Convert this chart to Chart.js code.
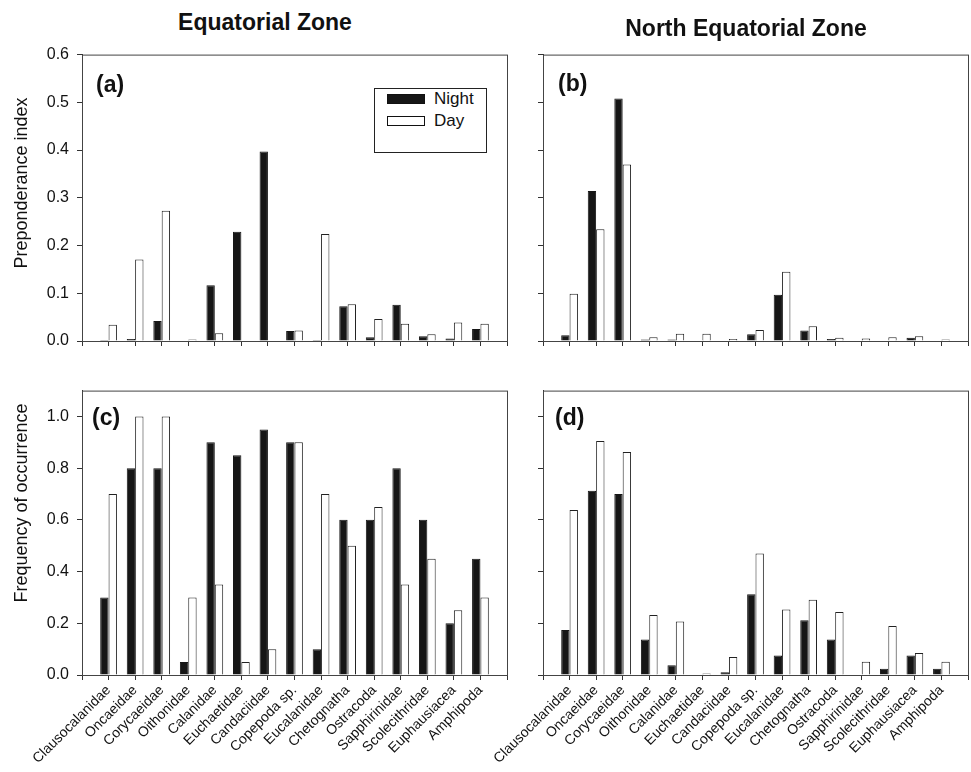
<!DOCTYPE html>
<html lang="en">
<head>
<meta charset="UTF-8">
<title>Preponderance index and frequency of occurrence</title>
<script src="https://cdn.jsdelivr.net/npm/chart.js"></script>
<style>
    body {
        margin: 0;
        background: #fff;
        font-family: 'Liberation Sans', Arial, sans-serif;
        color: #111;
    }

    #wrap {
        position: relative;
        width: 971px;
        height: 772px;
        overflow: hidden;
    }

    canvas {
        position: absolute;
    }

    .zone {
        position: absolute;
        font-weight: bold;
        font-size: 23px;
        white-space: nowrap;
        transform: translate(-50%, -50%);
    }

    .ytitle {
        position: absolute;
        font-size: 18px;
        white-space: nowrap;
        transform: translate(-50%, -50%) rotate(-90deg);
    }

    .legend {
        position: absolute;
        left: 374px;
        top: 88px;
        width: 111px;
        height: 63px;
        border: 1px solid #222;
        background: #fff;
        font-size: 17px;
    }

    .legend div {
        position: absolute;
        left: 12px;
        height: 20px;
        line-height: 20px;
    }

    .legend span {
        display: inline-block;
        width: 36px;
        height: 8px;
        border: 1px solid #111;
        margin-right: 9px;
        vertical-align: middle;
        position: relative;
        top: -1px;
    }
</style>
</head>
<body>
<div id="wrap">
    <canvas id="chartA" width="527" height="324" style="left:0;top:37px"></canvas>
    <canvas id="chartB" width="527" height="324" style="left:461px;top:37px"></canvas>
    <canvas id="chartC" width="527" height="399" style="left:0;top:373px"></canvas>
    <canvas id="chartD" width="527" height="399" style="left:461px;top:373px"></canvas>

    <div class="zone" style="left:265px;top:22px">Equatorial Zone</div>
    <div class="zone" style="left:746px;top:28px">North Equatorial Zone</div>
    <div class="ytitle" style="left:21px;top:183px">Preponderance index</div>
    <div class="ytitle" style="left:21px;top:503px">Frequency of occurrence</div>

    <div class="legend">
        <div style="top:0px"><span style="background:#161616"></span>Night</div>
        <div style="top:22px"><span style="background:#fff"></span>Day</div>
    </div>
</div>

<script>
    const categories = ['Clausocalanidae', 'Oncaeidae', 'Corycaeidae', 'Oithonidae', 'Calanidae', 'Euchaetidae',
        'Candaciidae', 'Copepoda sp.', 'Eucalanidae', 'Chetognatha', 'Ostracoda', 'Sapphirinidae',
        'Scolecithridae', 'Euphausiacea', 'Amphipoda'];

    // preponderance index
    const eqPrepNight = [0.002, 0.004, 0.042, 0, 0.117, 0.229, 0.397, 0.021, 0.002, 0.073, 0.008, 0.076, 0.010, 0.005, 0.025];
    const eqPrepDay = [0.034, 0.171, 0.273, 0.003, 0.016, 0, 0.001, 0.022, 0.224, 0.077, 0.046, 0.036, 0.014, 0.039, 0.036];
    const neqPrepNight = [0.012, 0.314, 0.508, 0.003, 0.003, 0, 0, 0.014, 0.097, 0.022, 0.004, 0, 0, 0.007, 0];
    const neqPrepDay = [0.099, 0.234, 0.370, 0.008, 0.015, 0.015, 0.004, 0.023, 0.145, 0.031, 0.007, 0.005, 0.008, 0.010, 0.003];

    // frequency of occurrence
    const eqFreqNight = [0.30, 0.80, 0.80, 0.05, 0.90, 0.85, 0.95, 0.90, 0.10, 0.60, 0.60, 0.80, 0.60, 0.20, 0.45];
    const eqFreqDay = [0.70, 1.00, 1.00, 0.30, 0.35, 0.05, 0.10, 0.90, 0.70, 0.50, 0.65, 0.35, 0.45, 0.25, 0.30];
    const neqFreqNight = [0.174, 0.713, 0.700, 0.137, 0.038, 0, 0.011, 0.312, 0.075, 0.212, 0.137, 0, 0.024, 0.075, 0.024];
    const neqFreqDay = [0.638, 0.905, 0.863, 0.232, 0.207, 0.006, 0.070, 0.470, 0.253, 0.291, 0.244, 0.051, 0.190, 0.085, 0.051];

    const prepTicks = [0, 0.1, 0.2, 0.3, 0.4, 0.5, 0.6];
    const freqTicks = [0, 0.2, 0.4, 0.6, 0.8, 1.0];

    const FONT = "'Liberation Sans', Arial, sans-serif";

    // box around the plot area + panel letter
    const framePlugin = {
        id: 'frame',
        afterDraw(chart, args, opts) {
            const { ctx, chartArea: a } = chart;
            ctx.save();
            ctx.strokeStyle = '#444';
            ctx.lineWidth = 1;
            ctx.strokeRect(a.left + 0.5, a.top + 0.5, a.right - a.left, a.bottom - a.top);
            ctx.font = 'bold 23px ' + FONT;
            ctx.fillStyle = '#111';
            ctx.textBaseline = 'middle';
            ctx.fillText(opts.tag, a.left + opts.dx, a.top + opts.dy);
            ctx.restore();
        }
    };

    function toPoints(values) {
        return values.map((v, i) => ({ x: i + 1, y: v }));
    }

    function makePanel(id, night, day, yTicks, yMax, opt) {
        new Chart(document.getElementById(id), {
            type: 'bar',
            data: {
                datasets: [{
                    label: 'Night',
                    data: toPoints(night),
                    backgroundColor: '#161616',
                    borderColor: '#161616',
                    borderWidth: 1,
                    categoryPercentage: 0.63,
                    barPercentage: 1.0
                }, {
                    label: 'Day',
                    data: toPoints(day),
                    backgroundColor: '#fff',
                    borderColor: '#222',
                    borderWidth: 1,
                    categoryPercentage: 0.63,
                    barPercentage: 1.0
                }]
            },
            options: {
                responsive: false,
                animation: false,
                layout: { padding: { top: 10, right: 20, bottom: 10, left: 0 } },
                plugins: {
                    legend: { display: false },
                    tooltip: { enabled: false },
                    frame: { tag: opt.tag, dx: opt.dx, dy: opt.dy }
                },
                scales: {
                    x: {
                        type: 'linear',
                        min: 0,
                        max: categories.length + 1,
                        offset: false,
                        afterFit: s => { s.height = opt.xh; },
                        grid: { offset: false, drawOnChartArea: false, drawTicks: true, tickLength: 5, color: '#333' },
                        border: { display: true, color: '#333' },
                        ticks: {
                            stepSize: 1,
                            autoSkip: false,
                            minRotation: 45,
                            maxRotation: 45,
                            padding: 2,
                            color: '#111',
                            font: { family: FONT, size: 14 },
                            callback: v => (opt.xLabels && v >= 1 && v <= categories.length) ? categories[v - 1] : ''
                        }
                    },
                    y: {
                        min: 0,
                        max: yMax,
                        afterFit: s => { s.width = 82; },
                        afterBuildTicks: s => { s.ticks = yTicks.map(v => ({ value: v })); },
                        grid: { drawOnChartArea: false, drawTicks: true, tickLength: 5, color: '#333' },
                        border: { display: true, color: '#333' },
                        ticks: {
                            padding: 8,
                            color: '#111',
                            font: { family: FONT, size: 16 },
                            callback: v => opt.yLabels ? v.toFixed(1) : ''
                        }
                    }
                }
            },
            plugins: [framePlugin]
        });
    }

    makePanel('chartA', eqPrepNight, eqPrepDay, prepTicks, 0.6,
        { tag: '(a)', dx: 14, dy: 31, xh: 10, xLabels: false, yLabels: true });
    makePanel('chartB', neqPrepNight, neqPrepDay, prepTicks, 0.6,
        { tag: '(b)', dx: 15, dy: 30, xh: 10, xLabels: false, yLabels: false });
    makePanel('chartC', eqFreqNight, eqFreqDay, freqTicks, 1.1,
        { tag: '(c)', dx: 10, dy: 28, xh: 87, xLabels: true, yLabels: true });
    makePanel('chartD', neqFreqNight, neqFreqDay, freqTicks, 1.1,
        { tag: '(d)', dx: 12, dy: 28, xh: 87, xLabels: true, yLabels: false });
</script>
</body>
</html>
